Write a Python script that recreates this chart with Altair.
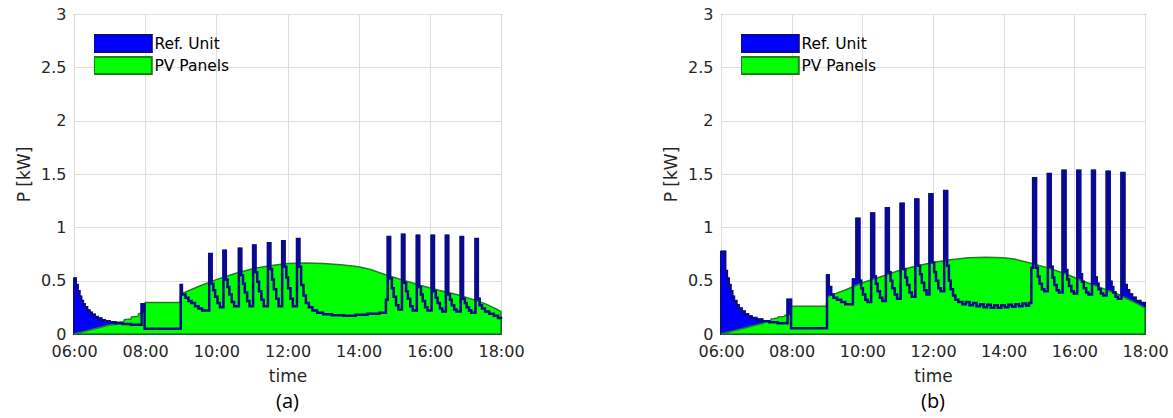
import altair as alt
import pandas as pd

SERIES = ["Ref. Unit", "PV Panels"]
FILLS = ["#0000ff", "#00ff00"]
EDGES = ["#0a0a8a", "#1f7f1f"]
NAVY = "#0a0a8a"
X_TICKS = [6, 8, 10, 12, 14, 16, 18]
Y_TICKS = [0, 0.5, 1, 1.5, 2, 2.5, 3]
TAGS = ["(a)", "(b)"]

# ---------- panel (a) ----------
A_REF_T = ["06:00", "06:03", "06:06", "06:09", "06:12", "06:15", "06:18", "06:22", "06:26", "06:30",
           "06:35", "06:40", "06:46", "06:52", "07:00", "07:10", "07:22", "07:36", "07:54", "07:59",
           "09:00", "09:02", "09:08", "09:13", "09:18", "09:24", "09:30", "09:36",
           "09:48", "09:52", "09:55", "09:58", "10:02", "10:06",
           "10:12", "10:16", "10:19", "10:22", "10:26", "10:30",
           "10:38", "10:42", "10:45", "10:48", "10:52", "10:56",
           "11:02", "11:06", "11:09", "11:12", "11:16", "11:20",
           "11:27", "11:31", "11:34", "11:37", "11:41", "11:45",
           "11:51", "11:55", "11:58", "12:01", "12:05", "12:09",
           "12:16", "12:20", "12:23", "12:27", "12:31", "12:36", "12:42", "12:50",
           "13:00", "13:15", "13:35", "13:55", "14:15", "14:35", "14:46",
           "14:49", "14:53", "14:56", "14:59", "15:03", "15:07",
           "15:13", "15:17", "15:20", "15:23", "15:27", "15:31",
           "15:38", "15:42", "15:45", "15:48", "15:52", "15:56",
           "16:03", "16:07", "16:10", "16:13", "16:17", "16:21",
           "16:27", "16:31", "16:34", "16:37", "16:41", "16:45",
           "16:52", "16:56", "16:59", "17:02", "17:06", "17:10",
           "17:17", "17:21", "17:24", "17:28", "17:33", "17:40", "17:48", "17:55", "18:00"]
A_REF_V = [0.52, 0.46, 0.40, 0.35, 0.31, 0.28, 0.25, 0.22, 0.20, 0.18,
           0.16, 0.145, 0.13, 0.12, 0.11, 0.10, 0.093, 0.086, 0.28, 0.05,
           0.46, 0.37, 0.34, 0.31, 0.29, 0.26, 0.24, 0.22,
           0.75, 0.47, 0.41, 0.35, 0.29, 0.25,
           0.78, 0.51, 0.44, 0.37, 0.30, 0.26,
           0.80, 0.55, 0.47, 0.39, 0.31, 0.26,
           0.83, 0.58, 0.49, 0.40, 0.32, 0.26,
           0.85, 0.61, 0.51, 0.42, 0.33, 0.26,
           0.87, 0.63, 0.53, 0.43, 0.33, 0.26,
           0.89, 0.63, 0.46, 0.36, 0.29, 0.25, 0.22, 0.20,
           0.185, 0.175, 0.17, 0.18, 0.19, 0.20, 0.32,
           0.91, 0.52, 0.43, 0.35, 0.27, 0.23,
           0.93, 0.48, 0.40, 0.33, 0.26, 0.22,
           0.92, 0.44, 0.37, 0.31, 0.25, 0.22,
           0.92, 0.40, 0.34, 0.29, 0.24, 0.21,
           0.92, 0.37, 0.32, 0.27, 0.23, 0.21,
           0.91, 0.33, 0.29, 0.25, 0.22, 0.20,
           0.89, 0.33, 0.27, 0.24, 0.21, 0.19, 0.17, 0.15, 0.14]
A_PV_T = ["06:00", "07:00", "07:12", "07:13", "07:24", "07:25", "07:36", "07:37", "07:48", "07:49",
          "07:59", "08:00", "08:59", "09:00", "09:30", "10:00", "10:30", "11:00", "11:30", "12:00",
          "12:30", "13:00", "13:30", "14:00", "14:20", "14:45", "15:15", "15:45", "16:15", "16:45",
          "17:15", "17:35", "17:55", "18:00"]
A_PV_V = [0.0, 0.085, 0.09, 0.11, 0.115, 0.135, 0.14, 0.16, 0.165, 0.19,
          0.20, 0.295, 0.295, 0.375, 0.445, 0.51, 0.565, 0.61, 0.64, 0.66,
          0.665, 0.66, 0.65, 0.63, 0.605, 0.555, 0.505, 0.455, 0.41, 0.37,
          0.32, 0.28, 0.225, 0.21]

# ---------- panel (b) ----------
B_REF_T = ["06:00", "06:07", "06:10", "06:13", "06:16", "06:19", "06:22", "06:26", "06:30", "06:35",
           "06:40", "06:46", "06:52", "07:00", "07:10", "07:22", "07:36", "07:53", "07:59",
           "09:00", "09:03", "09:07", "09:11", "09:17", "09:24", "09:31", "09:44",
           "09:50", "09:55", "09:58", "10:01", "10:05", "10:09",
           "10:15", "10:20", "10:23", "10:26", "10:30", "10:34",
           "10:40", "10:45", "10:48", "10:51", "10:55", "10:59",
           "11:05", "11:10", "11:13", "11:16", "11:20", "11:24",
           "11:30", "11:35", "11:38", "11:41", "11:45", "11:49",
           "11:54", "11:59", "12:02", "12:05", "12:09", "12:13",
           "12:19", "12:24", "12:27", "12:30", "12:34", "12:38", "12:43", "12:50",
           "12:56", "13:02", "13:08", "13:14", "13:20", "13:26", "13:32", "13:38", "13:44", "13:50",
           "13:56", "14:02", "14:08", "14:14", "14:20", "14:26", "14:32", "14:38", "14:43", "14:47",
           "14:50", "14:55", "14:58", "15:01", "15:05", "15:09",
           "15:15", "15:20", "15:23", "15:26", "15:30", "15:34",
           "15:40", "15:45", "15:48", "15:51", "15:55", "15:59",
           "16:05", "16:10", "16:13", "16:16", "16:20", "16:24",
           "16:30", "16:35", "16:38", "16:41", "16:45", "16:49",
           "16:55", "17:00", "17:03", "17:06", "17:10", "17:14",
           "17:20", "17:25", "17:29", "17:33", "17:38", "17:44", "17:52", "18:00"]
B_REF_V = [0.77, 0.59, 0.52, 0.46, 0.40, 0.35, 0.31, 0.27, 0.24, 0.21,
           0.185, 0.165, 0.15, 0.135, 0.12, 0.11, 0.10, 0.32, 0.055,
           0.55, 0.44, 0.37, 0.34, 0.32, 0.30, 0.28, 0.51,
           1.08, 0.50, 0.43, 0.37, 0.32, 0.30,
           1.13, 0.54, 0.47, 0.40, 0.34, 0.31,
           1.18, 0.58, 0.50, 0.43, 0.37, 0.33,
           1.22, 0.61, 0.53, 0.46, 0.39, 0.35,
           1.26, 0.64, 0.56, 0.48, 0.41, 0.37,
           1.31, 0.67, 0.58, 0.50, 0.43, 0.40,
           1.34, 0.64, 0.50, 0.42, 0.36, 0.32, 0.30, 0.28,
           0.30, 0.27, 0.29, 0.26, 0.28, 0.25, 0.275, 0.245, 0.27, 0.245,
           0.27, 0.25, 0.275, 0.255, 0.28, 0.26, 0.285, 0.265, 0.29, 0.62,
           1.46, 0.62, 0.54, 0.47, 0.42, 0.40,
           1.50, 0.63, 0.53, 0.46, 0.41, 0.39,
           1.53, 0.60, 0.51, 0.45, 0.40, 0.38,
           1.53, 0.56, 0.49, 0.43, 0.39, 0.37,
           1.53, 0.53, 0.47, 0.42, 0.38, 0.36,
           1.52, 0.49, 0.44, 0.39, 0.35, 0.33,
           1.51, 0.46, 0.41, 0.37, 0.34, 0.31, 0.29, 0.29]
B_PV_T = ["06:00", "07:00", "07:12", "07:13", "07:24", "07:25", "07:36", "07:37", "07:48", "07:49",
          "07:59", "08:00", "08:59", "09:00", "09:30", "10:00", "10:30", "11:00", "11:30", "12:00",
          "12:30", "13:00", "13:30", "14:00", "14:20", "14:45", "15:15", "15:45", "16:15", "16:45",
          "17:15", "17:45", "18:00"]
B_PV_V = [0.0, 0.085, 0.10, 0.115, 0.125, 0.14, 0.15, 0.16, 0.165, 0.175,
          0.18, 0.26, 0.26, 0.35, 0.41, 0.48, 0.535, 0.59, 0.635, 0.67,
          0.695, 0.715, 0.72, 0.715, 0.70, 0.665, 0.62, 0.565, 0.495, 0.435,
          0.37, 0.29, 0.245]

FONT = "DejaVu Sans"
TXT = "#262626"


def hrs(s):
    h, m = s.split(":")
    return int(h) + int(m) / 60.0


def panel(ref_t, ref_v, pv_t, pv_v, tag, width):
    ref = pd.DataFrame({"t": [hrs(s) for s in ref_t], "v": ref_v, "series": SERIES[0]})
    pv = pd.DataFrame({"t": [hrs(s) for s in pv_t], "v": pv_v, "series": SERIES[1]})
    x = alt.X("t:Q", scale=alt.Scale(domain=[6, 18], nice=False, zero=False),
              axis=alt.Axis(values=X_TICKS, title="time",
                            labelExpr="(datum.value < 10 ? '0' : '') + datum.value + ':00'"))
    y = alt.Y("v:Q", scale=alt.Scale(domain=[0, 3], nice=False),
              axis=alt.Axis(values=Y_TICKS, format="~g", title="P [kW]"))
    leg = alt.Legend(orient="top-left", title=None, symbolType="M-3.4,-1H3.4V1H-3.4Z",
                     symbolSize=289, symbolStrokeWidth=2, symbolOffset=19.4, labelOffset=22,
                     labelFont=FONT, labelFontSize=15.5, labelColor="#000000",
                     offset=20, padding=0, rowPadding=3, clipHeight=19)
    color = alt.Color("series:N", scale=alt.Scale(domain=SERIES, range=FILLS), legend=leg)
    stroke = alt.Stroke("series:N", scale=alt.Scale(domain=SERIES, range=EDGES), legend=leg)
    ref_area = alt.Chart(ref).mark_area(interpolate="step-after", strokeWidth=2, opacity=1).encode(
        x=x, y=y, color=color, stroke=stroke)
    pv_area = alt.Chart(pv).mark_area(interpolate="linear", strokeWidth=1.5, opacity=1).encode(
        x=x, y=y, color=color, stroke=stroke)
    ref_line = alt.Chart(ref).mark_line(interpolate="step-after", color=NAVY, strokeWidth=2.5).encode(
        x=x, y=y)
    return alt.layer(ref_area, pv_area, ref_line).properties(
        width=width, height=320,
        title=alt.TitleParams(tag, orient="bottom", font="Open Sans", fontSize=20,
                              fontWeight="normal", color="#000000", offset=8))


pa = panel(A_REF_T, A_REF_V, A_PV_T, A_PV_V, TAGS[0], 427)
pb = panel(B_REF_T, B_REF_V, B_PV_T, B_PV_V, TAGS[1], 424)

chart = alt.hconcat(pa, pb, spacing=220, bounds="flush").resolve_scale(
    color="independent", stroke="independent"
).properties(
    padding={"left": 15, "top": 5, "right": 0, "bottom": 0}
).configure_view(
    stroke="#262626", strokeWidth=1
).configure_axis(
    domain=False, ticks=False, grid=True, gridColor="#dedede", gridWidth=1,
    labelFont=FONT, labelFontSize=16, labelColor=TXT, labelFlush=False, labelOverlap=False,
    titleFont=FONT, titleFontSize=17, titleFontWeight="normal", titleColor=TXT
).configure_axisY(
    labelPadding=8, titlePadding=7
).configure_axisX(
    labelPadding=9, titlePadding=9
)

chart.save("out.html", embed_options={"renderer": "svg", "actions": False})
